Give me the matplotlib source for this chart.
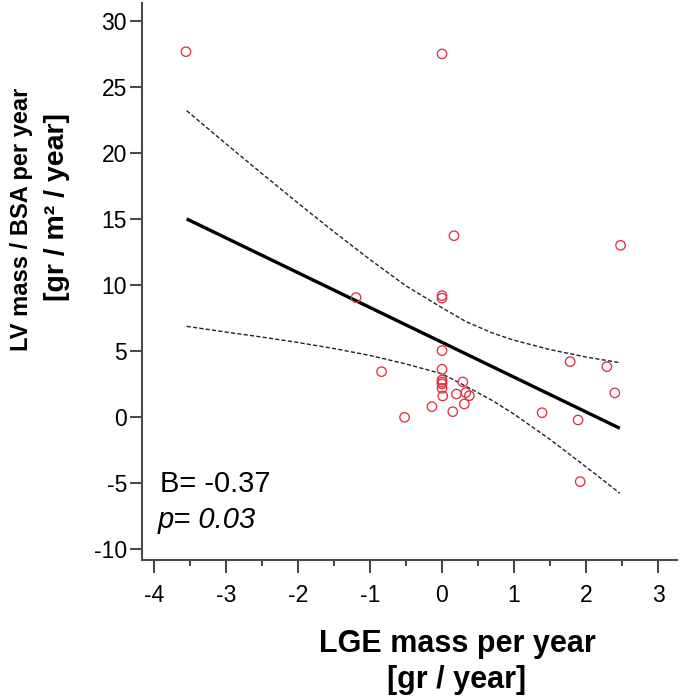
import matplotlib
matplotlib.use('Agg')
import matplotlib.pyplot as plt
from matplotlib.ticker import MultipleLocator

# ---- data ----
lge_mass = [-3.556, 0.00, 0.167, 2.48, -1.194, 0.00, 0.00, 1.78, 2.29, 2.40,
            1.39, 1.89, 1.92, 0.00, -0.84, 0.00, 0.00, 0.00, 0.00, 0.00,
            0.01, 0.29, 0.20, 0.33, 0.38, 0.31, -0.14, 0.15, -0.52]
lv_mass_bsa = [27.65, 27.48, 13.71, 12.98, 9.02, 9.17, 8.98, 4.17, 3.79, 1.80,
               0.30, -0.25, -4.92, 5.00, 3.41, 3.59, 2.78, 2.62, 2.48, 2.15,
               1.57, 2.63, 1.72, 1.82, 1.59, 0.96, 0.76, 0.38, -0.05]

# fitted line
fit_x = [-3.546, 2.47]
fit_y = [14.98, -0.88]

# 95% confidence band
ci_x = [-3.546, -3.0, -2.5, -2.0, -1.5, -1.0, -0.5, 0.0, 0.33, 0.7, 1.0,
        1.5, 2.0, 2.47]
ci_upper = [23.18, 20.67, 18.41, 16.18, 14.00, 11.90, 9.91, 8.25, 7.21, 6.34,
            5.79, 5.08, 4.52, 4.09]
ci_lower = [6.84, 6.41, 6.03, 5.62, 5.16, 4.64, 3.99, 3.25, 2.31, 1.22,
            0.19, -1.72, -3.80, -5.80]

x_ticks = [-4, -3, -2, -1, 0, 1, 2, 3]
y_ticks = [-10, -5, 0, 5, 10, 15, 20, 25, 30]

stat_b = "B= -0.37"
stat_p = "p= 0.03"
x_label = ["LGE mass per year", "[gr / year]"]
y_label = ["LV mass / BSA per year", "[gr / m\u00b2 / year]"]

# ---- figure ----
plt.rcParams['font.family'] = ['Liberation Sans', 'DejaVu Sans']
W, H = 679, 699
fig = plt.figure(figsize=(W / 100, H / 100), dpi=100)

left_px, right_px, top_px, bottom_px = 142.3, 677.0, 2.7, 559.5
ax = fig.add_axes([left_px / W, 1 - bottom_px / H,
                   (right_px - left_px) / W, (bottom_px - top_px) / H])
ax.set_xlim(-4.1625, 3.264)
ax.set_ylim(-10.82, 31.36)

spine_col = '#4a4a4a'
for s in ['top', 'right']:
    ax.spines[s].set_visible(False)
for s in ['left', 'bottom']:
    ax.spines[s].set_color(spine_col)
    ax.spines[s].set_linewidth(1.5)

dash = (0, (3.0, 1.6))
ax.plot(ci_x, ci_upper, color='#222222', lw=1.0, ls=dash)
ax.plot(ci_x, ci_lower, color='#222222', lw=1.0, ls=dash)
ax.plot(fit_x, fit_y, color='black', lw=2.4, solid_capstyle='butt')
ax.scatter(lge_mass, lv_mass_bsa, s=46, facecolors='none',
           edgecolors='#dd3340', linewidths=0.95, zorder=3)

ax.set_xticks(x_ticks)
ax.set_xticklabels([str(t) for t in x_ticks])
ax.set_yticks(y_ticks)
ax.set_yticklabels([str(t) for t in y_ticks])
ax.xaxis.set_minor_locator(MultipleLocator(0.5))
ax.tick_params(axis='both', which='major', length=9, width=1.5,
               color=spine_col, labelsize=16.5, direction='out')
ax.tick_params(axis='x', which='minor', length=4.5, width=1.5,
               color=spine_col, direction='out')
ax.tick_params(axis='x', which='major', pad=9)
ax.tick_params(axis='y', which='major', pad=2)

def px(x, y):
    return x / W, 1 - y / H

fig.text(*px(160, 491.7), stat_b, fontsize=21, va='baseline', ha='left')
fig.text(*px(158, 528.3), stat_p, fontsize=21, va='baseline', ha='left',
         style='italic')

fig.text(*px(457, 651.7), x_label[0], fontsize=22, fontweight='bold',
         va='baseline', ha='center')
fig.text(*px(457, 688.0), x_label[1], fontsize=22, fontweight='bold',
         va='baseline', ha='center')

fig.text(*px(22, 219), y_label[0], fontsize=17, fontweight='bold',
         va='center', ha='center', rotation=90)
fig.text(*px(57, 207), y_label[1], fontsize=20.5, fontweight='bold',
         va='center', ha='center', rotation=90)

fig.savefig('out.png', dpi=100)
